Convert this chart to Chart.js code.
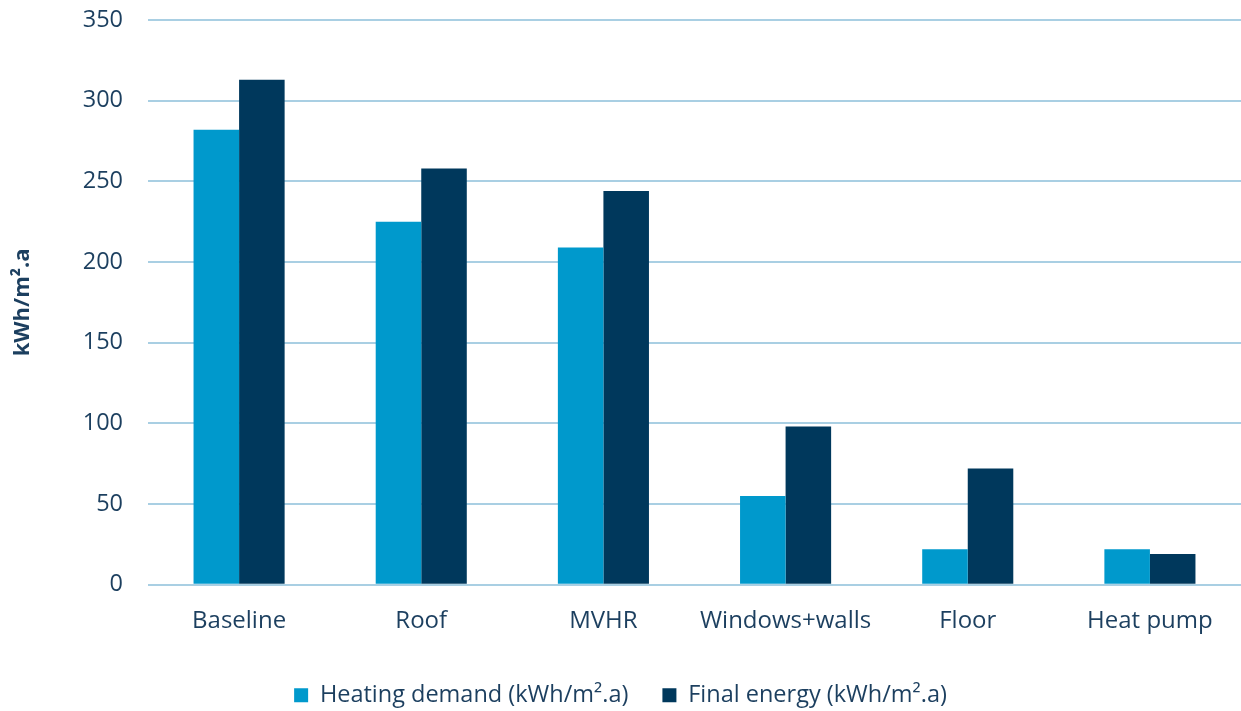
<!DOCTYPE html>
<html>
<head>
<meta charset="utf-8">
<script src="https://cdn.jsdelivr.net/npm/chart.js@4/dist/chart.umd.min.js"></script>
<style>
  html, body { margin: 0; padding: 0; background: #ffffff; }
  #wrap { width: 1241px; height: 711px; position: relative; }
</style>
</head>
<body>
<div id="wrap"><canvas id="chart"></canvas></div>
<script>
// Retrofit stages and their energy figures (kWh/m².a)
const categories = ['Baseline', 'Roof', 'MVHR', 'Windows+walls', 'Floor', 'Heat pump'];
const heatingDemand = [282, 225, 209, 55, 22, 22];
const finalEnergy = [313, 258, 244, 98, 72, 19];
const seriesNames = ['Heating demand (kWh/m².a)', 'Final energy (kWh/m².a)'];
const yTicks = [0, 50, 100, 150, 200, 250, 300, 350];

const textColor = '#1c3f5f';
const gridColor = '#a9cfe3';
const fontFamily = "'Open Sans', sans-serif";

new Chart(document.getElementById('chart'), {
  type: 'bar',
  data: {
    labels: categories,
    datasets: [
      { label: seriesNames[0], data: heatingDemand, backgroundColor: '#0099cc' },
      { label: seriesNames[1], data: finalEnergy, backgroundColor: '#00385c' }
    ]
  },
  options: {
    responsive: true,
    maintainAspectRatio: false,
    animation: false,
    datasets: { bar: { categoryPercentage: 0.5, barPercentage: 1.0 } },
    layout: { padding: { top: 20, right: 0, bottom: -6, left: 0 } },
    plugins: {
      tooltip: { enabled: false },
      legend: {
        position: 'bottom',
        labels: {
          color: textColor,
          font: { family: fontFamily, size: 23.5 },
          boxWidth: 14,
          boxHeight: 14,
          padding: 34
        }
      }
    },
    scales: {
      x: {
        grid: { display: false },
        border: { display: false },
        ticks: {
          color: textColor,
          font: { family: fontFamily, size: 24 },
          padding: 14,
          maxRotation: 0
        }
      },
      y: {
        min: 0,
        max: 350,
        afterBuildTicks: (scale) => { scale.ticks = yTicks.map(v => ({ value: v })); },
        afterFit: (scale) => {
          scale.width = 148;
          // let the top tick label overhang the plot instead of reserving room for it
          scale.paddingTop = 0;
          scale.paddingBottom = 0;
        },
        grid: { color: gridColor, lineWidth: 2, drawTicks: false },
        border: { display: false },
        ticks: {
          color: textColor,
          font: { family: fontFamily, size: 23.5 },
          padding: 25
        },
        title: {
          display: true,
          text: 'kWh/m².a',
          color: textColor,
          font: { family: fontFamily, size: 22, weight: 'bold' },
          padding: { top: 10, bottom: 0 }
        }
      }
    }
  }
});
</script>
</body>
</html>
